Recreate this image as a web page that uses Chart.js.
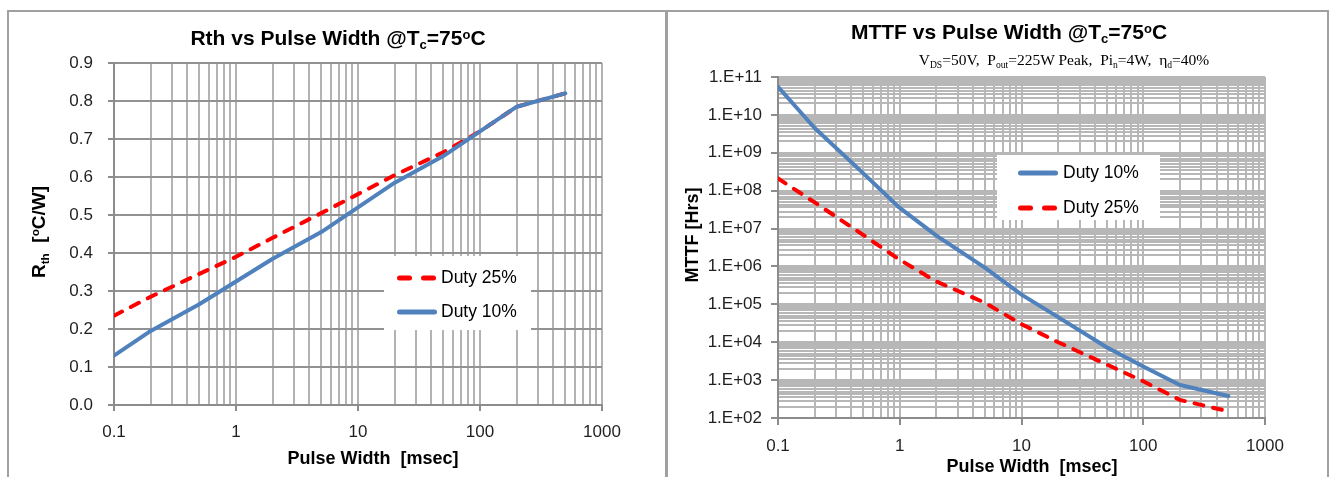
<!DOCTYPE html>
<html><head><meta charset="utf-8">
<script src="https://cdn.jsdelivr.net/npm/chart.js@4/dist/chart.umd.min.js"></script>
<style>
html,body{margin:0;padding:0;background:#fff;}
body{width:1334px;height:477px;position:relative;overflow:hidden;font-family:"Liberation Sans",Arial,sans-serif;color:#000;}
.panel{position:absolute;border:2px solid #a0a0a0;box-sizing:border-box;pointer-events:none;}
canvas{position:absolute;top:0;}
.t{position:absolute;white-space:nowrap;transform:translate(-50%,-50%);line-height:1;}
.title{font-weight:bold;font-size:21px;}
.axt{font-weight:bold;font-size:18px;}
.rot{transform:translate(-50%,-50%) rotate(-90deg);}
.sub{font-family:"Liberation Serif","Times New Roman",serif;font-size:15.5px;}
.sb{font-size:.62em;position:relative;top:.32em;}
.sp{font-size:.62em;position:relative;top:-.5em;}
.leg{position:absolute;background:#fff;}
.ltxt{position:absolute;font-size:17.5px;white-space:nowrap;transform:translateY(-50%);line-height:1;}
.solid{position:absolute;height:5px;width:40px;background:#4f81bd;border-radius:2.5px;transform:translateY(-50%);}
.dash{position:absolute;height:5px;width:15px;background:#ff0000;border-radius:2.5px;transform:translateY(-50%);}
</style>
</head><body>
<canvas id="c1" width="666" height="477" style="left:0"></canvas>
<canvas id="c2" width="667" height="477" style="left:667px"></canvas>

<div class="panel" style="left:7px;top:10px;width:660px;height:480px"></div>
<div class="panel" style="left:666px;top:10px;width:663px;height:480px"></div>

<div class="t title" style="left:338px;top:37px">Rth vs Pulse Width @T<span class="sb">c</span>=75<span class="sp">o</span>C</div>
<div class="t axt" style="left:373px;top:458px">Pulse Width&nbsp; [msec]</div>
<div class="t axt rot" style="left:38px;top:232px;font-size:19px">R<span class="sb">th</span>&nbsp; [<span class="sp">o</span>C/W]</div>

<div class="t title" style="left:1009px;top:31px">MTTF vs Pulse Width @T<span class="sb">c</span>=75<span class="sp">o</span>C</div>
<div class="t sub" style="left:1064px;top:60px">V<span class="sb">DS</span>=50V, &nbsp;P<span class="sb">out</span>=225W Peak, &nbsp;Pi<span class="sb">n</span>=4W, &nbsp;η<span class="sb">d</span>=40%</div>
<div class="t axt" style="left:1032px;top:466px">Pulse Width&nbsp; [msec]</div>
<div class="t axt rot" style="left:692px;top:235px">MTTF [Hrs]</div>

<div class="leg" style="left:384px;top:256px;width:147px;height:74px"></div>
<div class="dash" style="left:397px;top:278px"></div><div class="dash" style="left:421px;top:278px"></div>
<div class="ltxt" style="left:441px;top:278px">Duty 25%</div>
<div class="solid" style="left:397px;top:312px"></div>
<div class="ltxt" style="left:441px;top:312px">Duty 10%</div>

<div class="leg" style="left:997px;top:155px;width:163px;height:65px"></div>
<div class="solid" style="left:1018px;top:173px"></div>
<div class="ltxt" style="left:1063px;top:173px">Duty 10%</div>
<div class="dash" style="left:1018px;top:208px"></div><div class="dash" style="left:1042px;top:208px"></div>
<div class="ltxt" style="left:1063px;top:208px">Duty 25%</div>

<script>
// ---- data ----
const pulseWidths = [0.1, 0.2, 0.5, 1, 2, 5, 10, 20, 50, 100, 200, 500];
const rthDuty10 = [0.13, 0.195, 0.265, 0.325, 0.385, 0.455, 0.52, 0.585, 0.655, 0.72, 0.785, 0.82];
const rthDuty25 = [0.235, 0.285, 0.345, 0.39, 0.44, 0.505, 0.555, 0.605, 0.665, 0.72, 0.785, 0.82];
const mttfDuty10 = [5.5e10, 4.5e9, 2.9e8, 3.5e7, 6.5e6, 9.3e5, 1.8e5, 4.6e4, 7.4e3, 2.3e3, 7.4e2, 3.8e2];
const mttfDuty25 = [2.1e8, 4.9e7, 6.8e6, 1.5e6, 4.0e5, 1.1e5, 3.0e4, 1.0e4, 2.6e3, 9.3e2, 3.0e2, 1.5e2];
const xTickValues = [0.1, 1, 10, 100, 1000];
const xTickLabels = ['0.1', '1', '10', '100', '1000'];
const rthTickValues = [0, 0.1, 0.2, 0.3, 0.4, 0.5, 0.6, 0.7, 0.8, 0.9];
const rthTickLabels = ['0.0', '0.1', '0.2', '0.3', '0.4', '0.5', '0.6', '0.7', '0.8', '0.9'];
const mttfTickValues = [1e2, 1e3, 1e4, 1e5, 1e6, 1e7, 1e8, 1e9, 1e10, 1e11];
const mttfTickLabels = ['1.E+02', '1.E+03', '1.E+04', '1.E+05', '1.E+06', '1.E+07', '1.E+08', '1.E+09', '1.E+10', '1.E+11'];

// ---- helpers ----
function logGrid(minExp, maxExp, mantissas) {
  const out = [];
  for (let e = minExp; e < maxExp; e++) for (const m of mantissas) out.push(m * Math.pow(10, e));
  out.push(Math.pow(10, maxExp));
  return out;
}
const xGrid = logGrid(-1, 3, [1, 2, 3, 4, 5, 6, 7, 8, 9]);
const yMttfGrid = logGrid(2, 11, [1, 2, 2.8, 3.6, 4.3, 5, 6, 7, 8, 9]);
function findLabel(v, vals, labels) {
  for (let i = 0; i < vals.length; i++) {
    if (Math.abs(Math.log10(v) - Math.log10(vals[i])) < 1e-6) return labels[i];
  }
  return '';
}
const tickFont = {family: '"Liberation Sans", Arial, sans-serif', size: 17};
const tickCol = '#1f1f1f';
const pts = (ys) => pulseWidths.map((x, i) => ({x: x, y: ys[i]}));
const blueDs = (ys) => ({label: 'Duty 10%', data: pts(ys), borderColor: '#4f81bd', borderWidth: 4, pointRadius: 0, tension: 0, fill: false, borderCapStyle: 'round', borderJoinStyle: 'round'});
const redDs = (ys) => ({label: 'Duty 25%', data: pts(ys), borderColor: '#ff0000', borderWidth: 4, borderDash: [9, 10], borderCapStyle: 'round', pointRadius: 0, tension: 0, fill: false});

function xScale(h, pad, tl, gridCol) {
  return {
    type: 'logarithmic', position: 'bottom', min: 0.1, max: 1000,
    afterBuildTicks: s => { s.ticks = xGrid.map(v => ({value: v})); },
    afterFit: s => { s.height = h; },
    ticks: {autoSkip: false, maxRotation: 0, minRotation: 0, padding: pad, font: tickFont, color: tickCol,
      callback: v => findLabel(v, xTickValues, xTickLabels)},
    grid: {color: gridCol, lineWidth: 2, tickLength: tl,
      tickColor: c => findLabel(c.tick.value, xTickValues, xTickLabels) ? '#8c8c8c' : 'rgba(0,0,0,0)'},
    border: {color: '#8c8c8c', width: 2}
  };
}

new Chart(document.getElementById('c1'), {
  type: 'line',
  data: {datasets: [blueDs(rthDuty10), redDs(rthDuty25)]},
  options: {
    responsive: false, animation: false, devicePixelRatio: 1,
    layout: {padding: {top: 63, right: 64, left: 0, bottom: 0}},
    plugins: {legend: {display: false}, tooltip: {enabled: false}},
    scales: {
      x: xScale(72, 11, 6, '#b3b3b3'),
      y: {
        type: 'linear', min: 0, max: 0.9,
        afterBuildTicks: s => { s.ticks = rthTickValues.map(v => ({value: v})); },
        afterFit: s => { s.width = 114; },
        ticks: {autoSkip: false, padding: 15, font: tickFont, color: tickCol,
          callback: (v, i) => rthTickLabels[i]},
        grid: {color: '#929292', lineWidth: 2, tickLength: 6, tickColor: '#8c8c8c'},
        border: {color: '#8c8c8c', width: 2}
      }
    }
  }
});

new Chart(document.getElementById('c2'), {
  type: 'line',
  data: {datasets: [blueDs(mttfDuty10), redDs(mttfDuty25)]},
  options: {
    responsive: false, animation: false, devicePixelRatio: 1,
    layout: {padding: {top: 77, right: 69, left: 0, bottom: 0}},
    plugins: {legend: {display: false}, tooltip: {enabled: false}},
    scales: {
      x: xScale(59, 11, 7, '#b7b7b7'),
      y: {
        type: 'logarithmic', min: 1e2, max: 1e11,
        afterBuildTicks: s => { s.ticks = yMttfGrid.map(v => ({value: v})); },
        afterFit: s => { s.width = 111; },
        ticks: {autoSkip: false, padding: 9, font: tickFont, color: tickCol,
          callback: v => findLabel(v, mttfTickValues, mttfTickLabels)},
        grid: {color: '#b7b7b7', lineWidth: 2, tickLength: 7,
          tickColor: c => findLabel(c.tick.value, mttfTickValues, mttfTickLabels) ? '#8c8c8c' : 'rgba(0,0,0,0)'},
        border: {color: '#8c8c8c', width: 2}
      }
    }
  }
});
</script>
</body></html>
